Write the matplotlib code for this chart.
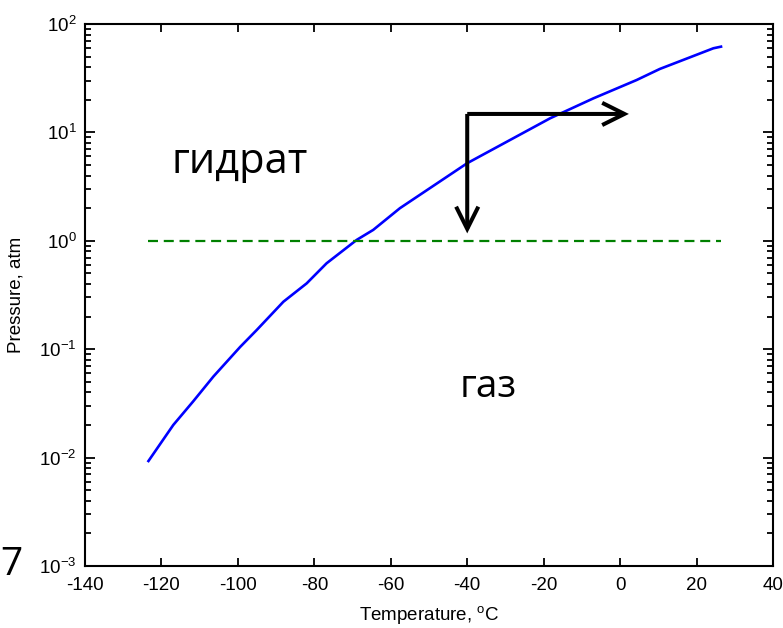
import matplotlib
matplotlib.use("Agg")
import matplotlib.pyplot as plt
from matplotlib.ticker import LogLocator, FixedLocator

# ---- data ----
temp_c = [-123.4, -116.9, -111.7, -106.4, -99.4, -95.1, -88.1, -82.0, -76.8,
          -68.9, -64.6, -57.6, -40.0, -18.3, -7.0, 4.3, 10.4, 16.5, 24.4, 26.4]
pressure_atm = [0.0093, 0.020, 0.033, 0.056, 0.105, 0.150, 0.274, 0.405, 0.62,
                1.02, 1.26, 2.0, 5.2, 13.5, 20.6, 30.4, 38.5, 46.6, 59.7, 61.8]

ref_line_x = [-123.5, 26.3]
ref_line_y = [1.0, 1.0]

arrow_origin = (-40.0, 14.8)
arrow_right_end = (2.3, 14.8)
arrow_down_end = (-40.0, 1.17)

x_ticks = [-140, -120, -100, -80, -60, -40, -20, 0, 20, 40]
label_hydrate = "гидрат"
label_gas = "газ"
hydrate_pos = (-99.6, 4.2)
gas_pos = (-34.4, 0.036)

plt.rcParams['font.family'] = ['Liberation Sans', 'DejaVu Sans']
plt.rcParams['mathtext.fontset'] = 'custom'
plt.rcParams['mathtext.rm'] = 'Liberation Sans'
plt.rcParams['mathtext.it'] = 'Liberation Sans'
plt.rcParams['axes.unicode_minus'] = False

fig = plt.figure(figsize=(7.83, 6.28), dpi=100)
ax = fig.add_axes([85/783, 62/628, 688/783, 542/628])

ax.plot(temp_c, pressure_atm, color='#0000ff', lw=1.9, solid_joinstyle='round')
ax.plot(ref_line_x, ref_line_y, color='#008000', lw=1.6, dashes=(4.5, 2.6))

arrow_kw = dict(arrowstyle='->,head_length=0.8,head_width=0.4', color='black',
                lw=2.9, shrinkA=0, shrinkB=0, mutation_scale=20,
                joinstyle='miter', capstyle='butt')
ax.annotate('', xy=arrow_right_end, xytext=arrow_origin, arrowprops=arrow_kw)
ax.annotate('', xy=arrow_down_end, xytext=arrow_origin, arrowprops=arrow_kw)

ax.text(hydrate_pos[0], hydrate_pos[1], label_hydrate, fontsize=30,
        family=['Open Sans', 'DejaVu Sans'], ha='center', va='baseline')
ax.text(gas_pos[0], gas_pos[1], label_gas, fontsize=28,
        family=['Open Sans', 'DejaVu Sans'], ha='center', va='baseline')

fig.text(0.5/783, 53/628, "7", fontsize=28, family=['Open Sans', 'DejaVu Sans'],
         ha='left', va='baseline')

ax.set_yscale('log')
ax.set_xlim(-140, 40)
ax.set_ylim(1e-3, 1e2)
ax.xaxis.set_major_locator(FixedLocator(x_ticks))
ax.yaxis.set_major_locator(LogLocator(base=10, numticks=10))
ax.yaxis.set_minor_locator(LogLocator(base=10, subs=range(2, 10), numticks=20))
ax.xaxis.set_minor_locator(FixedLocator([]))

ax.tick_params(axis='both', which='both', direction='in', top=True, right=True,
               labelsize=13.5, width=1.3, color='black')
ax.tick_params(axis='y', which='major', length=7, pad=6)
ax.tick_params(axis='y', which='minor', length=4)
ax.tick_params(axis='x', which='major', length=5.5, pad=8)

for s in ax.spines.values():
    s.set_linewidth(1.5)
    s.set_color('black')

ax.set_xlabel('Temperature, $^{\\mathrm{o}}$C', fontsize=13.5)
ax.set_ylabel('Pressure, atm', fontsize=13.5)
ax.xaxis.set_label_coords(0.5, -0.07)
ax.yaxis.set_label_coords(-0.088, 0.5)

fig.savefig('out.png', dpi=100, facecolor='white')
